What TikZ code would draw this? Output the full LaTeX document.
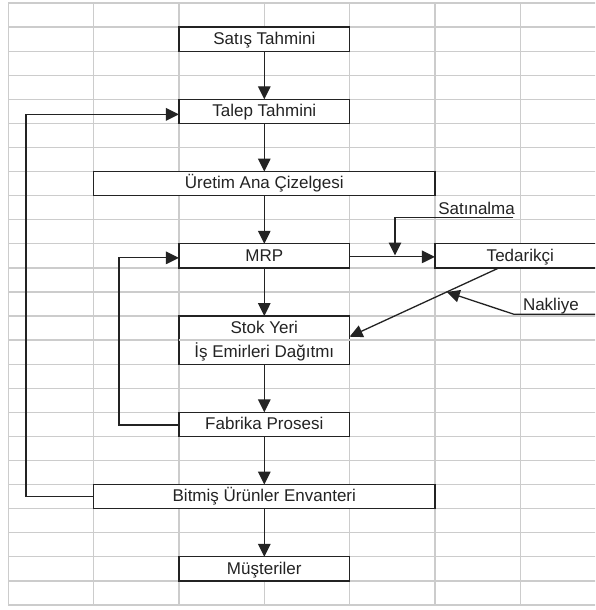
\documentclass[tikz,border=0pt]{standalone}
\usepackage{fontspec}
\setmainfont{Liberation Sans}
\usetikzlibrary{arrows.meta,calc}
\definecolor{gridc}{RGB}{204,204,204}
\definecolor{ink}{RGB}{35,35,35}
\begin{document}
\begin{tikzpicture}[x=1pt,y=-1pt,
  gridline/.style={draw=gridc, line width=1.3pt},
  lbl/.style={inner sep=0pt, outer sep=0pt, text=ink, font=\fontsize{17}{20}\selectfont},
  box/.style={lbl, draw=ink, fill=white, line width=1.3pt, minimum height=24.08pt,
              text height=12pt, text depth=1.5pt},
  cell/.style={box, minimum width=170.66pt},
  wide/.style={box, minimum width=341.32pt},
  link/.style={draw=ink, line width=1.3pt},
  arr/.style={link, -{Triangle[length=13pt,width=12.5pt]}}]
\clip (0,0) rectangle (595,610);
\fill[white] (0,0) rectangle (595,610);

% worksheet grid: 7 columns of 85.33, 25 rows of 24.08
\foreach \i in {0,...,7}
  \draw[gridline] ({8.3+85.33*\i},3) -- ({8.3+85.33*\i},605);
\foreach \j in {0,...,25}
  \draw[gridline] (8.3,{3+24.08*\j}) -- (600,{3+24.08*\j});

% process boxes
\node[cell] (satis)    at (264.29,39.12)  {Satış Tahmini};
\node[cell] (talep)    at (264.29,111.36) {Talep Tahmini};
\node[wide] (uretim)   at (264.29,183.6)  {Üretim Ana Çizelgesi};
\node[cell] (mrp)      at (264.29,255.84) {MRP};
\node[cell] (tedarikci) at (520.28,255.84) {Tedarikçi};
\node[cell, minimum height=48.16pt] (stok) at (264.29,340.12) {};
\draw[gridline] (stok.west) -- (stok.east);
\node[lbl, text height=12pt, text depth=1.5pt] (stok1) at (264.29,328.08) {Stok Yeri};
\node[lbl, text height=12pt, text depth=1.5pt] (stok2) at (264.29,352.16) {İş Emirleri Dağıtmı};
\node[cell] (fabrika)  at (264.29,424.4)  {Fabrika Prosesi};
\node[wide] (bitmis)   at (264.29,496.64) {Bitmiş Ürünler Envanteri};
\node[cell] (musteri)  at (264.29,568.88) {Müşteriler};

% main flow
\draw[arr] (satis) -- (talep);
\draw[arr] (talep) -- (uretim);
\draw[arr] (uretim) -- (mrp);
\draw[arr] (mrp) -- (stok);
\draw[arr] (stok) -- (fabrika);
\draw[arr] (fabrika) -- (bitmis);
\draw[arr] (bitmis) -- (musteri);

% feedback loops
\draw[arr] (bitmis.west) -- ++(-67.6,0) |- ([yshift=-3pt]talep.west);
\draw[arr] ([yshift=-0.6pt]fabrika.west) -- ++(-60,0) |- ([yshift=-2pt]mrp.west);

% purchasing and supply
\draw[arr] ([yshift=-1pt]mrp.east) -- ([yshift=-1pt]tedarikci.west);

\node[lbl, anchor=base west] (satinalma) at (438.3,214) {Satınalma};
\coordinate (satEnd) at (513.3,217.7);
\coordinate (satTip) at (395,255.5);
\draw[arr] (satEnd) -| (satTip);

\coordinate (tedOut) at (499,267.88);
\coordinate (stokIn) at ([yshift=3.4pt]stok.east);
\draw[arr] (tedOut) -- (stokIn);

\node[lbl, anchor=base west] (nakliye) at (523,310) {Nakliye};
\coordinate (nakEnd) at (600,314.3);
\coordinate (nakCorner) at (514,314.3);
\coordinate (nakTip) at ($(tedOut)!0.35!(stokIn)$);
\draw[arr] (nakEnd) -- (nakCorner) -- (nakTip);
\end{tikzpicture}
\end{document}
